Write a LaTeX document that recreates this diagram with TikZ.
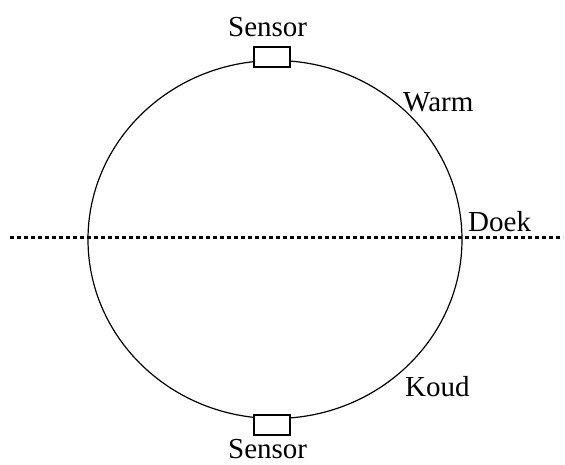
\documentclass[tikz,border=0pt]{standalone}
\usepackage{fontspec}
\setmainfont{Liberation Serif}
\begin{document}
\begin{tikzpicture}[x=1pt,y=-1pt,
  lbl/.style={inner sep=0pt,anchor=base west,font=\fontsize{29}{30}\selectfont},
  sensorbox/.style={draw,fill=white,line width=1.5pt,minimum width=36pt,minimum height=20pt,inner sep=0pt},
  ring/.style={line width=1.2pt}]
\useasboundingbox (0,0) rectangle (565,465);
\coordinate (c) at (275,239.5);
\draw[ring] (c) ellipse [x radius=187, y radius=179];
\coordinate (la) at (10,238);
\coordinate (lb) at (563,238);
\draw[line width=3pt,dash pattern=on 4pt off 3pt] (la) -- (lb);
\node[sensorbox] (s1) at (272,57) {};
\node[sensorbox] (s2) at (272,425) {};
\node[lbl] (t1) at (228,37) {Sensor};
\node[lbl] (t2) at (228,458) {Sensor};
\node[lbl] (warm) at (403,112) {Warm};
\node[lbl] (doek) at (468,232) {Doek};
\node[lbl] (koud) at (405,396) {Koud};
\end{tikzpicture}
\end{document}
